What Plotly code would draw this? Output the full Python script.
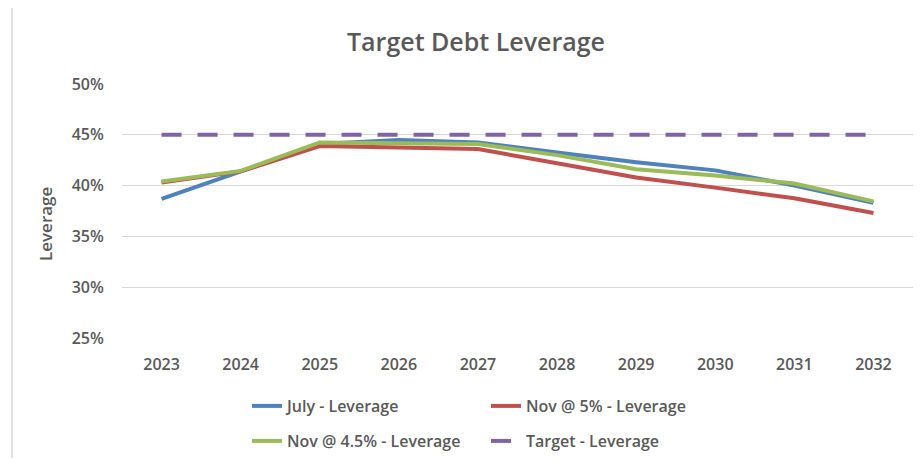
import plotly.graph_objects as go

years = ["2023", "2024", "2025", "2026", "2027", "2028", "2029", "2030", "2031", "2032"]
july_leverage = [38.7, 41.4, 44.1, 44.5, 44.25, 43.25, 42.3, 41.5, 40.0, 38.3]
nov5_leverage = [40.3, 41.4, 43.9, 43.75, 43.6, 42.2, 40.8, 39.8, 38.75, 37.3]
nov45_leverage = [40.4, 41.45, 44.25, 44.2, 44.1, 43.0, 41.6, 41.0, 40.2, 38.45]
target_leverage = [45, 45, 45, 45, 45, 45, 45, 45, 45, 45]

TXT = "#595959"
FONT = "Open Sans"
OFF = 8  # page body margin
W, H = 922 - 2 * OFF, 466 - 2 * OFF
PLOT_L, PLOT_R, PLOT_T, PLOT_B = 122, 913, 84, 338  # page pixel positions
L, R, T, B = PLOT_L - OFF, W - (PLOT_R - OFF), PLOT_T - OFF, H - (PLOT_B - OFF)
PW, PH = W - L - R, H - T - B

fig = go.Figure()
fig.add_trace(go.Scatter(x=years, y=july_leverage, mode="lines", name="July - Leverage",
                         line=dict(color="#4F81BD", width=4), legend="legend"))
fig.add_trace(go.Scatter(x=years, y=nov5_leverage, mode="lines", name="Nov @ 5% - Leverage",
                         line=dict(color="#C0504D", width=4), legend="legend"))
fig.add_trace(go.Scatter(x=years, y=nov45_leverage, mode="lines", name="Nov @ 4.5% - Leverage",
                         line=dict(color="#9BBB59", width=4), legend="legend2"))
fig.add_trace(go.Scatter(x=years, y=target_leverage, mode="lines", name="Target - Leverage",
                         line=dict(color="#8064A2", width=4, dash="20px,16px"), legend="legend2"))

def px_x(p):
    return (p - PLOT_L) / PW

def px_y(p):
    return (PLOT_B - p) / PH

legend_common = dict(orientation="h", xanchor="left", yanchor="middle",
                     font=dict(family=FONT, size=16, color=TXT, weight=600),
                     entrywidth=194, entrywidthmode="pixels",
                     bgcolor="rgba(0,0,0,0)", borderwidth=0)

fig.update_layout(
    width=W, height=H,
    margin=dict(l=L, r=R, t=T, b=B, autoexpand=False),
    paper_bgcolor="white", plot_bgcolor="white",
    title=dict(text="Target Debt Leverage", x=(476 - OFF) / W, xref="container", xanchor="center",
               y=1 - (42 - OFF) / H, yref="container", yanchor="middle",
               font=dict(family=FONT, size=25, color=TXT, weight=600)),
    xaxis=dict(range=[-0.5, 9.5], showgrid=False, showline=False, zeroline=False,
               ticks="outside", ticklen=12, tickcolor="rgba(0,0,0,0)",
               tickfont=dict(family=FONT, size=16, color=TXT, weight=600)),
    yaxis=dict(range=[25, 50], dtick=5, ticksuffix="%", showgrid=True, gridcolor="#d9d9d9",
               gridwidth=1, zeroline=False, showline=False,
               ticks="outside", ticklen=14, tickcolor="rgba(0,0,0,0)",
               tickfont=dict(family=FONT, size=16, color=TXT, weight=600)),
    legend=dict(x=px_x(247), y=px_y(406), **legend_common),
    legend2=dict(x=px_x(247), y=px_y(441), **legend_common),
    annotations=[dict(text="Leverage", xref="paper", yref="paper", x=px_x(45), y=px_y(224),
                      xanchor="center", yanchor="middle", textangle=-90, showarrow=False,
                      font=dict(family=FONT, size=17, color=TXT, weight=600))],
    shapes=[dict(type="rect", xref="paper", yref="paper",
                 x0=px_x(12), x1=px_x(940), y0=px_y(5), y1=px_y(480),
                 line=dict(color="#d9d9d9", width=1.5), fillcolor="rgba(0,0,0,0)",
                 layer="below")],
)

fig.write_html("out.html")
